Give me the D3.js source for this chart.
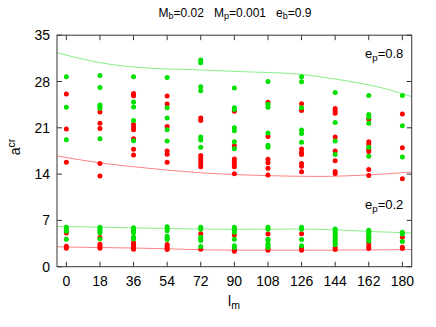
<!DOCTYPE html>
<html>
<head>
<meta charset="utf-8">
<script src="https://cdn.jsdelivr.net/npm/d3@7"></script>
<style>
  body { margin: 0; background: #fff; }
  svg { font-family: "Liberation Sans", Arial, sans-serif; }
</style>
</head>
<body>
<svg id="chart"></svg>
<script>
// columns (l_m values)
const lm = [0, 18, 36, 54, 72, 90, 108, 126, 144, 162, 180];
const xTicks = lm;
const yTicks = [0, 7, 14, 21, 28, 35];

// e_p = 0.8 points, one list per column
const redHigh = [
  [26.1, 20.8, 15.8],
  [23.4, 21.7, 20.9, 15.6, 13.7],
  [26.2, 26.0, 25.85, 21.5, 21.1, 20.7, 19.35, 17.75, 16.9],
  [25.8, 24.6, 21.2, 17.5, 17.0, 15.8],
  [22.5, 22.1, 16.8, 16.4, 16.0, 15.6, 15.1],
  [23.5, 18.3, 16.3, 15.9, 15.5, 15.1, 14.05],
  [24.85, 19.7, 16.25, 15.7, 14.9, 13.85],
  [24.65, 23.6, 17.8, 17.3, 16.95, 15.6, 15.2, 14.35],
  [23.9, 23.55, 23.2, 19.6, 17.5, 16.0, 14.4, 14.1],
  [22.3, 18.9, 18.55, 17.75, 17.4, 14.7, 13.8],
  [23.1, 18.0, 13.3]
];
const greenHigh = [
  [28.7, 24.1, 19.2],
  [28.9, 27.1, 24.45, 24.2, 23.95, 19.35],
  [28.7, 24.9, 24.15, 22.1, 19.05],
  [28.6, 24.05, 22.5, 20.7, 19.0],
  [31.25, 30.85, 27.2, 26.6, 19.6, 19.15, 18.05],
  [27.0, 24.05, 23.75, 21.0, 20.55, 18.9, 17.85],
  [28.0, 24.55, 24.1, 20.2, 18.35, 18.05],
  [28.7, 27.95, 24.05, 20.65, 20.15, 18.8],
  [26.35, 21.8, 19.0, 16.95],
  [25.9, 23.0, 22.6, 21.7, 18.05, 16.7],
  [25.9, 21.3, 16.6]
];

// e_p = 0.2 points
const redLow = [
  [5.1, 3.1, 2.8],
  [4.4, 3.4, 3.1, 2.8],
  [3.65, 3.4, 3.1, 2.9, 2.65],
  [3.35, 3.1, 2.8, 2.6],
  [5.0, 2.65],
  [4.8, 2.55, 2.35],
  [4.95, 2.75, 2.5],
  [5.0, 2.85, 2.5],
  [2.85, 2.6],
  [4.4, 3.6, 3.05, 2.75],
  [4.45, 2.95, 2.75]
];
const greenLow = [
  [5.95, 5.65, 5.35, 4.15],
  [5.95, 5.65, 5.4, 5.15, 4.2],
  [5.9, 5.65, 5.4, 5.15, 4.45, 4.2],
  [6.05, 5.75, 5.45, 4.6, 4.3, 4.1],
  [5.95, 5.65, 4.45, 4.2, 3.95, 3.05],
  [5.95, 5.7, 5.45, 5.2, 4.15, 3.15, 2.9],
  [5.95, 5.65, 4.15, 3.95, 3.4, 3.15, 2.9],
  [5.95, 5.65, 4.1, 3.15],
  [5.7, 5.4, 5.1, 4.8, 4.5, 4.2, 3.9, 3.6, 3.3],
  [5.5, 5.2, 4.9, 4.6, 4.2, 3.9],
  [5.2, 4.95, 3.8]
];

// boundary curves
const greenHighCurve = [[-5, 32.35], [18, 30.85], [40, 30.1], [72, 29.75], [93, 29.5], [125, 29.1], [141, 28.5], [160, 27.6], [175, 26.6], [185, 25.7]];
const redHighCurve = [[-5, 16.75], [18, 15.7], [40, 15.0], [72, 14.2], [93, 13.9], [110, 13.75], [136, 13.65], [163, 13.9], [185, 14.3]];
const greenLowCurve = [[-5, 6.1], [40, 5.85], [90, 5.65], [126, 5.7], [150, 5.5], [165, 5.3], [185, 5.1]];
const redLowCurve = [[-5, 3.0], [40, 2.8], [90, 2.5], [140, 2.5], [185, 2.6]];

const width = 436, height = 327;
const mLeft = 57, mRight = 411.7, mTop = 35.2, mBottom = 266.7;

const svg = d3.select("#chart").attr("width", width).attr("height", height);

const x = d3.scaleLinear().domain([-5, 185]).range([mLeft, mRight]);
const y = d3.scaleLinear().domain([0, 35]).range([mBottom, mTop]);

svg.append("clipPath").attr("id", "clip")
  .append("rect").attr("x", mLeft).attr("y", mTop)
  .attr("width", mRight - mLeft).attr("height", mBottom - mTop);

// curves
const line = d3.line().x(d => x(d[0])).y(d => y(d[1])).curve(d3.curveMonotoneX);
const curves = [
  [greenHighCurve, "#88ee88"], [redHighCurve, "#ff8080"],
  [greenLowCurve, "#88ee88"], [redLowCurve, "#ff8080"]
];
svg.append("g").attr("clip-path", "url(#clip)")
  .selectAll("path").data(curves).enter().append("path")
  .attr("d", d => line(d[0]))
  .attr("fill", "none")
  .attr("stroke", d => d[1])
  .attr("stroke-width", 1);

// points
function flat(cols) {
  return cols.flatMap((vals, i) => vals.map(v => [lm[i], v]));
}
const series = [
  [flat(redHigh).concat(flat(redLow)), "#ff0000"],
  [flat(greenHigh).concat(flat(greenLow)), "#00e000"]
];
series.forEach(s => {
  svg.append("g").selectAll("circle").data(s[0]).enter().append("circle")
    .attr("cx", d => x(d[0]))
    .attr("cy", d => y(d[1]))
    .attr("r", 2.5)
    .attr("fill", s[1]);
});

// frame and ticks (gnuplot style, inward on all sides)
const axisColor = "#333";
svg.append("rect")
  .attr("x", mLeft).attr("y", mTop)
  .attr("width", mRight - mLeft).attr("height", mBottom - mTop)
  .attr("fill", "none").attr("stroke", axisColor).attr("stroke-width", 1);

const tickLen = 5;
const g = svg.append("g").attr("stroke", axisColor).attr("stroke-width", 1);
xTicks.forEach(t => {
  g.append("line").attr("x1", x(t)).attr("x2", x(t)).attr("y1", mBottom).attr("y2", mBottom - tickLen);
  g.append("line").attr("x1", x(t)).attr("x2", x(t)).attr("y1", mTop).attr("y2", mTop + tickLen);
});
yTicks.forEach(t => {
  g.append("line").attr("x1", mLeft).attr("x2", mLeft + tickLen).attr("y1", y(t)).attr("y2", y(t));
  g.append("line").attr("x1", mRight).attr("x2", mRight - tickLen).attr("y1", y(t)).attr("y2", y(t));
});

// tick labels
svg.append("g").selectAll("text").data(xTicks).enter().append("text")
  .attr("x", d => x(d)).attr("y", mBottom + 19)
  .attr("text-anchor", "middle").attr("font-size", 14).attr("fill", "#000")
  .text(d => d);
svg.append("g").selectAll("text").data(yTicks).enter().append("text")
  .attr("x", mLeft - 7).attr("y", d => y(d) + 5)
  .attr("text-anchor", "end").attr("font-size", 14).attr("fill", "#000")
  .text(d => d);

// text with subscripts / superscripts
function richText(parent, parts, size) {
  const t = parent.append("text").attr("font-size", size).attr("fill", "#000");
  parts.forEach(p => {
    const ts = t.append("tspan").text(p[0]);
    if (p[1] === "sub") ts.attr("font-size", size * 0.75).attr("baseline-shift", "-25%");
    if (p[1] === "sup") ts.attr("font-size", size * 0.75).attr("baseline-shift", "45%");
  });
  return t;
}

richText(svg, [["M"], ["b", "sub"], ["=0.02   M"], ["p", "sub"], ["=0.001   e"], ["b", "sub"], ["=0.9"]], 12)
  .attr("x", 235).attr("y", 17).attr("text-anchor", "middle")
  .style("white-space", "pre");

richText(svg, [["e"], ["p", "sub"], ["=0.8"]], 13)
  .attr("x", 365).attr("y", 58);
richText(svg, [["e"], ["p", "sub"], ["=0.2"]], 13)
  .attr("x", 365).attr("y", 209);

richText(svg, [["l"], ["m", "sub"]], 14)
  .attr("x", 234).attr("y", 306).attr("text-anchor", "middle");

richText(svg, [["a"], ["cr", "sup"]], 14)
  .attr("text-anchor", "middle")
  .attr("transform", "translate(20,147) rotate(-90)");
</script>
</body>
</html>
